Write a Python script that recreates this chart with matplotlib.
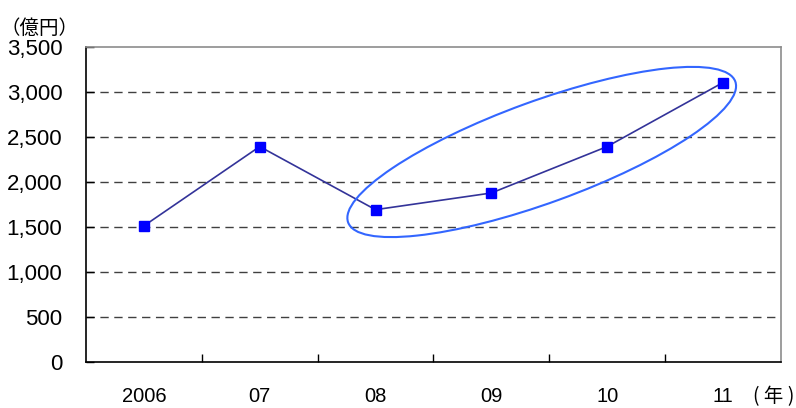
import matplotlib.pyplot as plt
from matplotlib.patches import Ellipse
from matplotlib.transforms import ScaledTranslation
import numpy as np

plt.rcParams['font.family'] = ['Liberation Sans', 'DejaVu Sans']

years = ['2006', '07', '08', '09', '10', '11']
values = [1510, 2390, 1690, 1875, 2390, 3100]
y_ticks = [0, 500, 1000, 1500, 2000, 2500, 3000, 3500]

fig = plt.figure(figsize=(7.96, 4.08), dpi=100)
ax = fig.add_axes([0.108, 0.1127, 0.873, 0.7733])

x = np.arange(len(years))
ax.plot(x, values, color='#333399', linewidth=1.2, zorder=3)
ax.plot(x, values, linestyle='', marker='s', markersize=6.5,
        color='#0000FF', zorder=4)

ax.set_xlim(-0.5, len(years) - 0.5)
ax.set_ylim(0, 3500)

# y axis
ax.set_yticks(y_ticks)
ax.set_yticklabels(['{:,}'.format(v) for v in y_ticks], fontsize=16)
ax.tick_params(axis='y', direction='in', length=6, width=1, pad=17, colors='black')
for v in y_ticks[1:-1]:
    ax.axhline(v, color='#404040', linewidth=1, linestyle=(0, (6, 4)), zorder=1)

# x axis: labels centred on categories, tick marks on the boundaries
ax.set_xticks(x)
ax.set_xticklabels(years, fontsize=14.5)
ax.tick_params(axis='x', which='major', length=0, pad=18)
ax.set_xticks(np.arange(0.5, len(years) - 1, 1.0), minor=True)
ax.tick_params(axis='x', which='minor', direction='in', length=6, width=1)

for side in ['left', 'bottom']:
    ax.spines[side].set_color('black')
    ax.spines[side].set_linewidth(1.2)
for side in ['top', 'right']:
    ax.spines[side].set_color('#8c8c8c')
    ax.spines[side].set_linewidth(1.2)

# highlight ellipse around 2008-2011
center = (3.435, 2330)
ell = Ellipse((0, 0), width=4.12, height=1.016, angle=20, fill=False,
              edgecolor='#3366FF', linewidth=1.5, zorder=5,
              transform=fig.dpi_scale_trans + ScaledTranslation(center[0], center[1], ax.transData))
fig.add_artist(ell)

fig.text(0.050, 0.930, '（億円）', fontsize=14, ha='center', va='center',
         family=['Noto Sans CJK JP', 'DejaVu Sans'])
fig.text(0.998, 0.027, '( 年 )', fontsize=14, ha='right', va='center',
         family=['Noto Sans CJK JP', 'DejaVu Sans'])

fig.savefig('out.png', dpi=100)
